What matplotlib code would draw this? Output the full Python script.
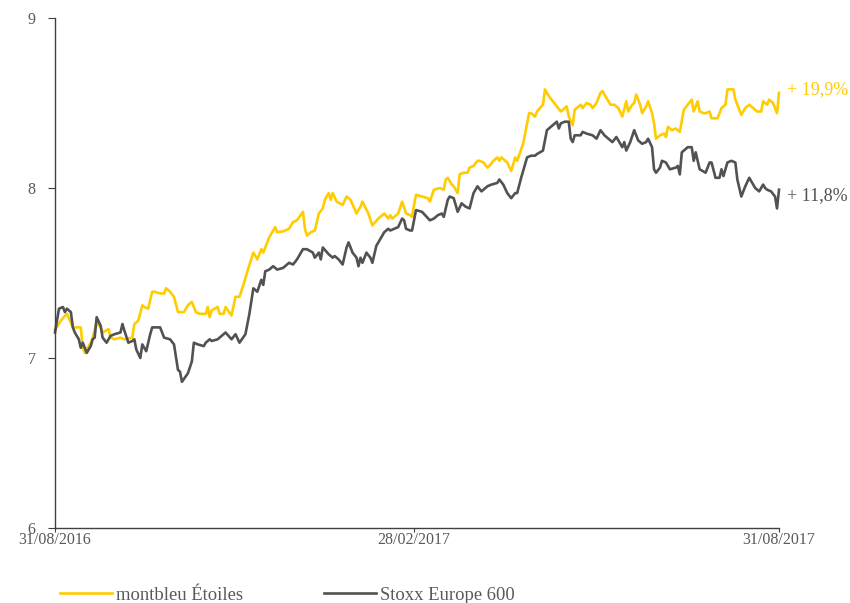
import matplotlib
matplotlib.use("Agg")
import matplotlib.pyplot as plt
import pandas as pd

start_date = "2016-08-31"
tick_dates = ["2016-08-31", "2017-02-28", "2017-08-31"]
tick_labels = ["31/08/2016", "28/02/2017", "31/08/2017"]
y_ticks = [6, 7, 8, 9]
series_names = ["montbleu Étoiles", "Stoxx Europe 600"]
end_labels = ["+ 19,9%", "+ 11,8%"]

# days since start_date, values
fund_days = [0, 3, 4, 6, 9, 13, 14, 15, 18, 19, 21, 23, 24, 27, 28, 30, 33, 35, 39, 40,
             42, 44, 45, 47, 49, 50, 53, 55, 56, 58, 60, 62, 65, 67, 69, 71, 73, 76, 77, 78,
             79, 82, 83, 85, 86, 89, 91, 93, 95, 97, 100, 101, 102, 104, 105, 107, 108, 111, 112, 115,
             118, 120, 122, 125, 126, 127, 129, 131, 133, 135, 136, 138, 139, 140, 142, 145, 147, 149, 152, 154,
             155, 158, 160, 163, 166, 168, 169, 170, 173, 175, 177, 179, 180, 181, 182, 185, 188, 189, 191, 194,
             196, 197, 198, 200, 201, 203, 204, 206, 208, 209, 211, 213, 214, 216, 218, 219, 221, 223, 224, 225,
             228, 230, 232, 233, 236, 238, 239, 240, 242, 243, 246, 247, 249, 251, 253, 255, 257, 258, 259, 261,
             262, 265, 266, 268, 270, 271, 273, 275, 276, 278, 280, 282, 284, 286, 288, 289, 291, 292, 293, 295,
             296, 298, 299, 301, 302, 303, 305, 307, 308, 309, 311, 313, 315, 317, 319, 321, 322, 324, 325, 327,
             328, 330, 331, 333, 334, 336, 338, 339, 342, 343, 344, 346, 348, 350, 352, 354, 356, 357, 359, 360,
             362, 364, 365]
fund_vals = [7.165, 7.22, 7.235, 7.26, 7.18, 7.18, 7.06, 7.03, 7.09, 7.12, 7.21, 7.18, 7.15, 7.17, 7.12, 7.11, 7.12, 7.11, 7.12, 7.20,
             7.22, 7.31, 7.30, 7.29, 7.39, 7.39, 7.38, 7.38, 7.41, 7.39, 7.36, 7.27, 7.27, 7.31, 7.33, 7.27, 7.26, 7.26, 7.30, 7.24,
             7.28, 7.30, 7.26, 7.26, 7.30, 7.25, 7.36, 7.36, 7.43, 7.51, 7.62, 7.60, 7.58, 7.64, 7.62, 7.68, 7.71, 7.77, 7.74, 7.745,
             7.76, 7.80, 7.81, 7.86, 7.76, 7.72, 7.74, 7.75, 7.85, 7.88, 7.93, 7.97, 7.93, 7.97, 7.92, 7.90, 7.95, 7.93, 7.85, 7.89,
             7.92, 7.85, 7.78, 7.82, 7.85, 7.82, 7.84, 7.82, 7.85, 7.92, 7.85, 7.84, 7.83, 7.90, 7.96, 7.95, 7.94, 7.92, 7.99, 8.00,
             7.99, 8.05, 8.06, 8.02, 8.01, 7.97, 8.08, 8.09, 8.09, 8.12, 8.13, 8.16, 8.16, 8.15, 8.12, 8.13, 8.16, 8.18, 8.16, 8.18,
             8.15, 8.10, 8.18, 8.16, 8.26, 8.38, 8.44, 8.44, 8.42, 8.45, 8.49, 8.58, 8.54, 8.51, 8.48, 8.45, 8.47, 8.48, 8.42, 8.37,
             8.46, 8.49, 8.47, 8.50, 8.49, 8.47, 8.50, 8.56, 8.57, 8.53, 8.49, 8.49, 8.47, 8.42, 8.51, 8.45, 8.49, 8.50, 8.55, 8.49,
             8.44, 8.48, 8.51, 8.44, 8.38, 8.29, 8.31, 8.32, 8.30, 8.36, 8.34, 8.35, 8.33, 8.46, 8.49, 8.52, 8.45, 8.51, 8.45, 8.44,
             8.44, 8.45, 8.41, 8.41, 8.41, 8.47, 8.49, 8.58, 8.58, 8.52, 8.49, 8.43, 8.47, 8.49, 8.47, 8.45, 8.45, 8.51, 8.49, 8.52,
             8.50, 8.44, 8.56]

index_days = [0, 2, 4, 5, 6, 8, 9, 10, 12, 13, 14, 16, 18, 19, 20, 21, 23, 24, 26, 28,
              30, 33, 34, 35, 37, 39, 40, 41, 43, 44, 46, 48, 49, 53, 55, 58, 60, 62, 63, 64,
              67, 69, 70, 72, 75, 76, 78, 79, 82, 84, 86, 89, 91, 93, 96, 98, 100, 102, 104, 105,
              106, 108, 110, 112, 115, 118, 120, 122, 125, 127, 130, 131, 133, 134, 135, 138, 140, 141, 143, 145,
              147, 148, 150, 152, 153, 154, 155, 157, 159, 160, 162, 164, 166, 168, 169, 170, 173, 175, 176, 177,
              179, 180, 182, 185, 189, 191, 193, 195, 196, 198, 199, 201, 203, 205, 207, 209, 211, 213, 215, 218,
              220, 223, 224, 226, 228, 230, 232, 233, 235, 237, 238, 240, 242, 243, 246, 248, 250, 251, 253, 254,
              255, 257, 259, 260, 261, 262, 265, 266, 268, 271, 273, 275, 277, 281, 283, 286, 287, 288, 290, 292,
              294, 296, 298, 299, 301, 302, 303, 305, 306, 308, 310, 313, 314, 315, 316, 319, 321, 322, 323, 324,
              325, 328, 330, 331, 333, 335, 336, 337, 339, 341, 343, 344, 346, 348, 350, 353, 355, 357, 358, 359,
              361, 363, 364, 365]
index_vals = [7.15, 7.29, 7.30, 7.27, 7.29, 7.27, 7.18, 7.15, 7.11, 7.06, 7.09, 7.03, 7.07, 7.11, 7.12, 7.24, 7.19, 7.12, 7.09, 7.13,
              7.14, 7.15, 7.20, 7.16, 7.09, 7.10, 7.11, 7.05, 7.00, 7.08, 7.04, 7.14, 7.18, 7.18, 7.12, 7.11, 7.08, 6.93, 6.92, 6.86,
              6.91, 6.98, 7.09, 7.08, 7.07, 7.09, 7.11, 7.10, 7.11, 7.13, 7.15, 7.11, 7.14, 7.09, 7.14, 7.26, 7.41, 7.39, 7.46, 7.43,
              7.51, 7.52, 7.54, 7.52, 7.53, 7.56, 7.55, 7.58, 7.64, 7.64, 7.62, 7.59, 7.62, 7.58, 7.65, 7.61, 7.59, 7.60, 7.58, 7.55,
              7.65, 7.68, 7.62, 7.59, 7.54, 7.59, 7.56, 7.62, 7.59, 7.56, 7.66, 7.70, 7.74, 7.76, 7.75, 7.755, 7.77, 7.82, 7.81, 7.76,
              7.75, 7.75, 7.87, 7.86, 7.81, 7.82, 7.84, 7.85, 7.83, 7.93, 7.95, 7.94, 7.86, 7.91, 7.89, 7.88, 7.97, 8.01, 7.98, 8.01,
              8.02, 8.03, 8.05, 8.02, 7.97, 7.94, 7.97, 7.97, 8.06, 8.14, 8.18, 8.19, 8.19, 8.20, 8.22, 8.34, 8.36, 8.37, 8.39, 8.35,
              8.38, 8.39, 8.39, 8.29, 8.27, 8.31, 8.31, 8.33, 8.32, 8.31, 8.29, 8.34, 8.31, 8.27, 8.30, 8.24, 8.27, 8.22, 8.27, 8.34,
              8.28, 8.26, 8.27, 8.29, 8.24, 8.11, 8.09, 8.12, 8.16, 8.15, 8.11, 8.12, 8.13, 8.08, 8.21, 8.24, 8.24, 8.16, 8.21, 8.16,
              8.11, 8.09, 8.15, 8.15, 8.06, 8.06, 8.11, 8.07, 8.15, 8.16, 8.15, 8.05, 7.95, 8.01, 8.06, 8.00, 7.98, 8.02, 8.00, 7.99,
              7.98, 7.95, 7.88, 7.99]

YELLOW = "#FFCC00"
GREY = "#525252"
TEXT = "#595959"

plt.rcParams["font.family"] = ["Liberation Serif", "DejaVu Serif"]

t0 = pd.Timestamp(start_date)
fund_dates = t0 + pd.to_timedelta(fund_days, unit="D")
index_dates = t0 + pd.to_timedelta(index_days, unit="D")

fig = plt.figure(figsize=(8.5, 6.03), dpi=100)
ax = fig.add_axes([55 / 850, 1 - 528 / 603, 724 / 850, 510 / 603])

ax.plot(fund_dates, fund_vals, color=YELLOW, lw=1.9, label=series_names[0], clip_on=False)
ax.plot(index_dates, index_vals, color=GREY, lw=1.9, label=series_names[1], clip_on=False)

ax.set_ylim(6, 9)
ax.set_yticks(y_ticks)
ax.set_xlim(pd.Timestamp(tick_dates[0]), pd.Timestamp(tick_dates[-1]))
ax.set_xticks(pd.to_datetime(tick_dates))
ax.set_xticklabels(tick_labels)

for s in ["top", "right"]:
    ax.spines[s].set_visible(False)
for s in ["left", "bottom"]:
    ax.spines[s].set_color("#404040")
    ax.spines[s].set_linewidth(1.0)
ax.tick_params(axis="both", colors="#404040", labelcolor=TEXT, labelsize=11.5, width=0.8)
ax.tick_params(axis="x", length=3, pad=0)
ax.tick_params(axis="y", length=5, pad=9)

ax.annotate(end_labels[0], xy=(pd.Timestamp(tick_dates[-1]), fund_vals[-1]), xytext=(6, 2),
            textcoords="offset points", color=YELLOW, fontsize=13, va="center", ha="left",
            annotation_clip=False)
ax.annotate(end_labels[1], xy=(pd.Timestamp(tick_dates[-1]), index_vals[-1]), xytext=(6, -4),
            textcoords="offset points", color=GREY, fontsize=13, va="center", ha="left",
            annotation_clip=False)

fig.legend(loc="center left", bbox_to_anchor=(60 / 850, 1 - 595 / 603), ncol=2, frameon=False,
           fontsize=13.4, handlelength=2.8, handletextpad=0.2, columnspacing=4.35,
           borderpad=0, borderaxespad=0, labelcolor=[TEXT, TEXT])

fig.savefig("out.png", dpi=100)
